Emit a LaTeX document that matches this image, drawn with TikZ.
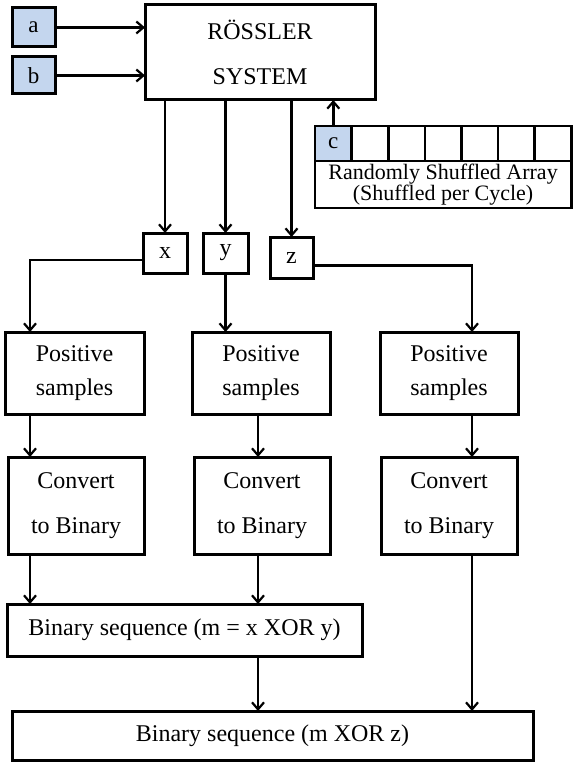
\documentclass[tikz,border=0pt]{standalone}
\usepackage{fontspec}
\setmainfont{Liberation Serif}
\usetikzlibrary{arrows.meta,calc}
\definecolor{keyblue}{RGB}{196,214,238}
\begin{document}
\begin{tikzpicture}[x=1pt,y=-1pt,
  box/.style={draw=black,line width=3pt,rectangle,inner sep=0pt,outer sep=0pt,align=center,
    font=\fontsize{24}{34}\selectfont},
  tallbox/.style={box,font=\fontsize{24}{45}\selectfont},
  key/.style={box,fill=keyblue,font=\fontsize{23}{23}\selectfont},
  cell/.style={draw=black,line width=2.6pt,rectangle,inner sep=0pt,minimum width=36.6pt,minimum height=35pt},
  link/.style={line width=2.4pt,-{Straight Barb[length=7pt,width=12pt,line width=2.2pt]}}
]
\useasboundingbox (0,0) rectangle (576,762);

% inputs and the generator
\node[key,minimum width=43pt,minimum height=39pt] (a) at (33.5,27.5) {a};
\node[key,minimum width=43pt,minimum height=37pt] (b) at (33.5,75.5) {b};
\node[tallbox,minimum width=230pt,minimum height=95pt] (ross) at (260,52.5) {RÖSSLER\\SYSTEM};

% shuffled parameter array
\foreach \i in {1,...,7}{
  \node[cell] (c\i) at ({315+36.6*(\i-0.5)},143.5) {};
}
\node[cell,fill=keyblue,font=\fontsize{23}{23}\selectfont] at (c1) {c};
\node[box,line width=2.6pt,minimum width=256.2pt,minimum height=47pt,font=\fontsize{22}{20}\selectfont]
  (arr) at (443.1,184.5) {Randomly Shuffled Array\\(Shuffled per Cycle)};

% state variables
\node[box,minimum width=44pt,minimum height=40pt] (x) at (165,253) {x};
\node[box,minimum width=45pt,minimum height=40pt] (y) at (225.5,253) {y};
\node[box,minimum width=43pt,minimum height=41pt] (z) at (291.5,257.5) {z};

% processing columns
\node[box,minimum width=139pt,minimum height=82pt] (pos1) at (74.5,373) {Positive\\samples};
\node[box,minimum width=138pt,minimum height=82pt] (pos2) at (261,373) {Positive\\samples};
\node[box,minimum width=138pt,minimum height=82pt] (pos3) at (449,373) {Positive\\samples};
\node[tallbox,minimum width=136pt,minimum height=97pt] (conv1) at (76,505.5) {Convert\\to Binary};
\node[tallbox,minimum width=136pt,minimum height=97pt] (conv2) at (262,505.5) {Convert\\to Binary};
\node[tallbox,minimum width=136pt,minimum height=97pt] (conv3) at (449,505.5) {Convert\\to Binary};

% combination stages
\node[box,minimum width=355pt,minimum height=52pt] (seq1) at (184.5,630) {Binary sequence (m = x XOR y)};
\node[box,minimum width=521pt,minimum height=49pt] (seq2) at (272.5,735.5) {Binary sequence (m XOR z)};

% column guides
\coordinate (colL) at (30,0);
\coordinate (colM) at (258,0);
\coordinate (colR) at (472,0);

% connectors
\draw[link] (a.east) -- (a.east -| ross.west);
\draw[link] (b.east) -- (b.east -| ross.west);
\draw[link] (x.north |- ross.south) -- (x.north);
\draw[link] (y.north |- ross.south) -- (y.north);
\draw[link] (z.north |- ross.south) -- (z.north);
\draw[link] (c1.north) -- (c1.north |- ross.south);

\draw[link] ([yshift=-7pt]x.west) -| (colL |- pos1.north);
\draw[link] (y.south) -- (y.south |- pos2.north);
\draw[link] ([yshift=-8pt]z.east) -| (colR |- pos3.north);

\draw[link] (colL |- pos1.south) -- (colL |- conv1.north);
\draw[link] (colM |- pos2.south) -- (colM |- conv2.north);
\draw[link] (colR |- pos3.south) -- (colR |- conv3.north);

\draw[link] (colL |- conv1.south) -- (colL |- seq1.north);
\draw[link] (colM |- conv2.south) -- (colM |- seq1.north);
\draw[link] (colM |- seq1.south) -- (colM |- seq2.north);
\draw[link] (colR |- conv3.south) -- (colR |- seq2.north);
\end{tikzpicture}
\end{document}
